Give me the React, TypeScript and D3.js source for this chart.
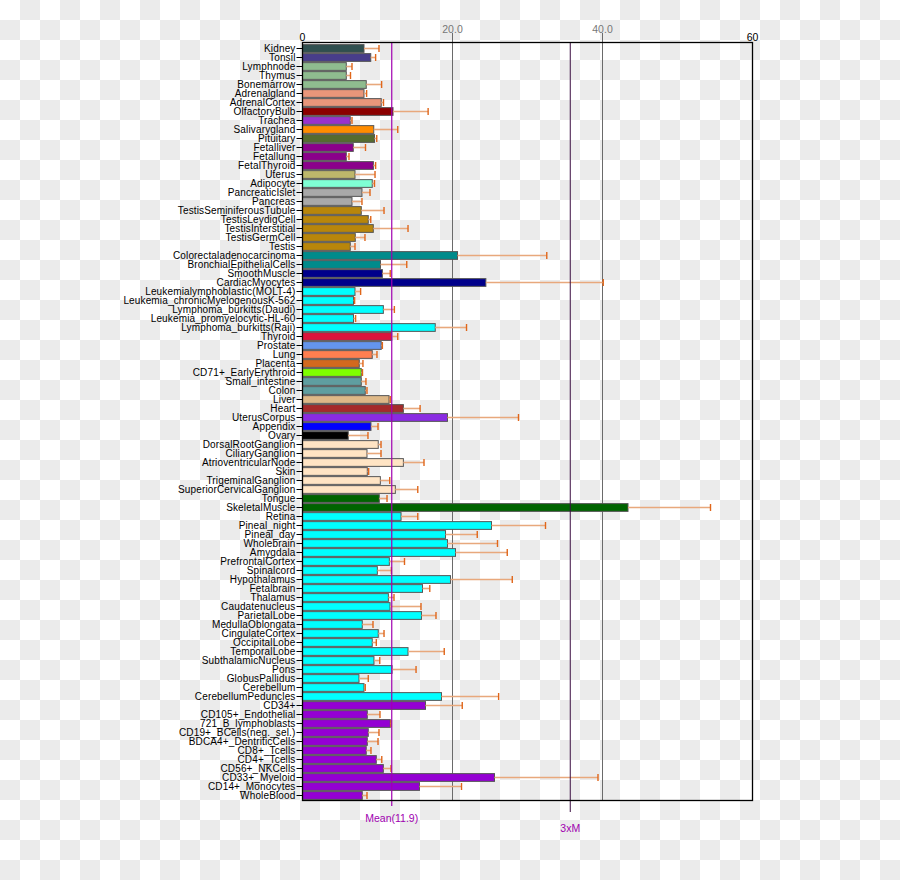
import React from "react";
import * as d3 from "d3";

const tissues = [
  "Kidney", "Tonsil", "Lymphnode", "Thymus", "Bonemarrow", "Adrenalgland", "AdrenalCortex",
  "OlfactoryBulb", "Trachea", "Salivarygland", "Pituitary", "Fetalliver", "Fetallung",
  "FetalThyroid", "Uterus", "Adipocyte", "PancreaticIslet", "Pancreas",
  "TestisSeminiferousTubule", "TestisLeydigCell", "TestisInterstitial", "TestisGermCell",
  "Testis", "Colorectaladenocarcinoma", "BronchialEpithelialCells", "SmoothMuscle",
  "CardiacMyocytes", "Leukemialymphoblastic(MOLT-4)", "Leukemia_chronicMyelogenousK-562",
  "Lymphoma_burkitts(Daudi)", "Leukemia_promyelocytic-HL-60", "Lymphoma_burkitts(Raji)",
  "Thyroid", "Prostate", "Lung", "Placenta", "CD71+_EarlyErythroid", "Small_intestine",
  "Colon", "Liver", "Heart", "UterusCorpus", "Appendix", "Ovary", "DorsalRootGanglion",
  "CiliaryGanglion", "AtrioventricularNode", "Skin", "TrigeminalGanglion",
  "SuperiorCervicalGanglion", "Tongue", "SkeletalMuscle", "Retina", "Pineal_night",
  "Pineal_day", "Wholebrain", "Amygdala", "PrefrontalCortex", "Spinalcord", "Hypothalamus",
  "Fetalbrain", "Thalamus", "Caudatenucleus", "ParietalLobe", "MedullaOblongata",
  "CingulateCortex", "OccipitalLobe", "TemporalLobe", "SubthalamicNucleus", "Pons",
  "GlobusPallidus", "Cerebellum", "CerebellumPeduncles", "CD34+", "CD105+_Endothelial",
  "721_B_lymphoblasts", "CD19+_BCells(neg._sel.)", "BDCA4+_DentriticCells", "CD8+_Tcells",
  "CD4+_Tcells", "CD56+_NKCells", "CD33+_Myeloid", "CD14+_Monocytes", "WholeBlood",
];

const means = [
  8.2, 9.1, 5.84, 5.84, 8.5, 8.2, 10.5,
  12.07, 6.37, 9.5, 9.6, 6.77, 5.84,
  9.45, 7.0, 9.3, 7.93, 6.6,
  7.84, 8.77, 9.44, 7.04,
  6.37, 20.67, 10.4, 10.65,
  24.45, 7.0, 6.8,
  10.78, 6.8, 17.7,
  11.9, 10.5, 9.3, 7.57, 7.84, 7.84,
  8.37, 11.54, 13.45, 19.33, 9.13, 6.1, 10.1,
  8.6, 13.45, 8.64, 10.38,
  12.38, 10.24, 43.4, 13.14, 25.2,
  19.07, 19.33, 20.4, 11.58, 9.98, 19.73,
  16.0, 11.45, 11.67, 15.86, 7.97,
  10.1, 9.3, 14.07, 9.53, 11.94,
  7.53, 8.2, 18.53, 16.4, 8.64,
  11.7, 8.77, 8.64, 8.5,
  9.84, 10.78, 25.6, 15.6, 7.97,
];

const sds = [
  2.0, 0.65, 0.76, 0.56, 2.05, 0.35, 0.3,
  4.68, 0.23, 3.2, 0.3, 1.63, 0.36,
  0.3, 2.67, 0.3, 1.07, 1.33,
  3.03, 0.33, 4.63, 1.29,
  0.63, 11.9, 3.5, 1.05,
  15.65, 0.75, 0.15,
  1.47, 0.28, 4.17,
  0.8, 0.15, 0.63, 0.49, 0.16, 0.62,
  0.23, 0.16, 2.23, 9.47, 0.94, 2.63, 0.37,
  1.87, 2.75, 0.18, 1.25,
  2.99, 1.03, 11.0, 2.23, 7.2,
  4.23, 6.67, 6.9, 2.02, 1.87, 8.24,
  0.97, 0.75, 4.13, 1.94, 1.43,
  0.77, 0.54, 4.83, 0.77, 3.2,
  1.24, 0.17, 7.62, 4.9, 1.69,
  0.1, 1.43, 1.43, 0.63,
  0.73, 1.02, 13.8, 5.6, 0.63,
];

const barColors = [
  "#2F4F4F", "#483D8B", "#8FBC8F", "#8FBC8F", "#8FBC8F", "#E9967A", "#E9967A",
  "#8B0000", "#9932CC", "#FF8C00", "#556B2F", "#8B008B", "#8B008B",
  "#8B008B", "#BDB76B", "#7FFFD4", "#A9A9A9", "#A9A9A9",
  "#B8860B", "#B8860B", "#B8860B", "#B8860B",
  "#B8860B", "#008B8B", "#008B8B", "#00008B",
  "#00008B", "#00FFFF", "#00FFFF",
  "#00FFFF", "#00FFFF", "#00FFFF",
  "#DC143C", "#6495ED", "#FF7F50", "#D2691E", "#7FFF00", "#5F9EA0",
  "#5F9EA0", "#DEB887", "#A52A2A", "#8A2BE2", "#0000FF", "#000000", "#FFE4C4",
  "#FFE4C4", "#FFE4C4", "#FFE4C4", "#FFE4C4",
  "#FFE4C4", "#006400", "#006400", "#00FFFF", "#00FFFF",
  "#00FFFF", "#00FFFF", "#00FFFF", "#00FFFF", "#00FFFF", "#00FFFF",
  "#00FFFF", "#00FFFF", "#00FFFF", "#00FFFF", "#00FFFF",
  "#00FFFF", "#00FFFF", "#00FFFF", "#00FFFF", "#00FFFF",
  "#00FFFF", "#00FFFF", "#00FFFF", "#9400D3", "#9400D3",
  "#9400D3", "#9400D3", "#9400D3", "#9400D3",
  "#9400D3", "#9400D3", "#9400D3", "#9400D3", "#9400D3",
];

const gridTicks = [20, 40];
const meanValue = 11.9;

const W = 900;
const H = 880;
const font = "'Liberation Sans', Arial, Helvetica, sans-serif";
const purple = "#a000b0";

export default function App() {
  const x = d3.scaleLinear().domain([0, 60]).range([302.5, 752.5]);
  const y = d3.scaleBand<string>().domain(tissues).range([44, 800]).paddingInner(0.14).paddingOuter(0.07);
  const bh = y.bandwidth();
  const top = 42.5;
  const bottom = 800.5;

  return (
    <div style={{ position: "absolute", left: 0, top: 0 }}>
      <svg width={W} height={H} style={{ display: "block" }}>
        <defs>
          <pattern id="checker" width={40} height={40} patternUnits="userSpaceOnUse">
            <rect width={40} height={40} fill="#ffffff" />
            <rect x={20} y={0} width={20} height={20} fill="#ebebeb" />
            <rect x={0} y={20} width={20} height={20} fill="#ebebeb" />
          </pattern>
        </defs>
        <rect width={W} height={H} fill="url(#checker)" />

        {/* grid lines */}
        {gridTicks.map((t) => (
          <g key={t}>
            <line x1={x(t)} x2={x(t)} y1={33} y2={bottom} stroke="#6a6a6a" strokeWidth={1} />
            <text x={x(t)} y={33} textAnchor="middle" fontFamily={font} fontSize={10.5} fill="#777">
              {t.toFixed(1)}
            </text>
          </g>
        ))}
        <text x={x(0)} y={41} textAnchor="middle" fontFamily={font} fontSize={10.5} fill="#000">0</text>
        <text x={x(60)} y={41} textAnchor="middle" fontFamily={font} fontSize={10.5} fill="#000">60</text>

        {/* bars */}
        {tissues.map((t, i) => (
          <rect
            key={t}
            x={x(0)}
            y={y(t)!}
            width={x(means[i]) - x(0)}
            height={bh}
            fill={barColors[i]}
            stroke="#555"
            strokeWidth={1}
          />
        ))}

        {/* error bars */}
        {tissues.map((t, i) => {
          const cy = y(t)! + bh / 2;
          const x1 = x(means[i]);
          const x2 = x(means[i] + sds[i]);
          return (
            <g key={t}>
              <line x1={x1} x2={x2} y1={cy} y2={cy} stroke="#e8a87c" strokeWidth={1.6} />
              <line x1={x2} x2={x2} y1={cy - 3.5} y2={cy + 3.5} stroke="#e0661a" strokeWidth={1.4} />
            </g>
          );
        })}

        {/* labels with ticks */}
        {tissues.map((t) => {
          const cy = y(t)! + bh / 2;
          return (
            <g key={t}>
              <line x1={x(0) - 6} x2={x(0)} y1={cy} y2={cy} stroke="#000" strokeWidth={1} />
              <text
                x={x(0) - 7}
                y={cy + 3.5}
                textAnchor="end"
                fontFamily={font}
                fontSize={10}
                letterSpacing={0.15}
                fill="#000"
              >
                {t}
              </text>
            </g>
          );
        })}

        {/* mean and 3x mean lines */}
        <line x1={x(meanValue)} x2={x(meanValue)} y1={top} y2={806} stroke={purple} strokeWidth={1.2} />
        <text x={x(meanValue)} y={822} textAnchor="middle" fontFamily={font} fontSize={10.5} fill={purple}>
          {`Mean(${meanValue})`}
        </text>
        <line x1={x(meanValue * 3)} x2={x(meanValue * 3)} y1={top} y2={812} stroke="#3a0c40" strokeWidth={1} />
        <text x={x(meanValue * 3)} y={832} textAnchor="middle" fontFamily={font} fontSize={10.5} fill={purple}>
          3xM
        </text>

        {/* frame */}
        <rect x={x(0)} y={top} width={x(60) - x(0)} height={bottom - top} fill="none" stroke="#000" strokeWidth={1.3} />
      </svg>
    </div>
  );
}
